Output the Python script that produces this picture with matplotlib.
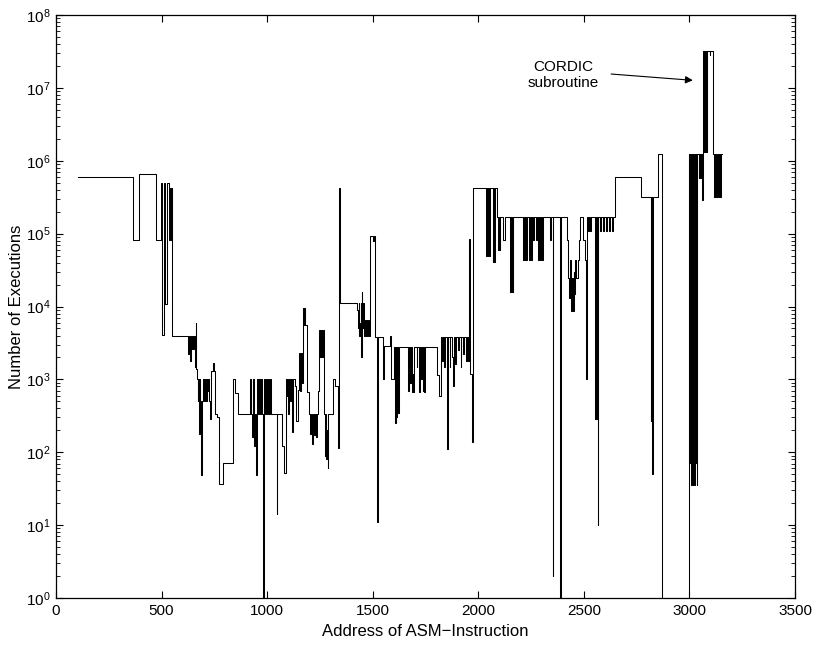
import numpy as np
from matplotlib import pyplot as plt
from matplotlib.ticker import LogLocator, NullFormatter

plt.rcParams['font.family'] = ['Liberation Sans', 'DejaVu Sans']

# instruction address where each count starts (step plot, 'post')
address = [104, 365, 394, 474, 496, 504, 510, 516, 527, 534, 541, 543, 545, 547, 549, 551,
           627, 631, 635, 639, 643, 646, 650, 654, 658, 661, 664, 668, 671, 674, 677, 680,
           684, 688, 692, 697, 701, 705, 709, 713, 717, 721, 725, 730, 735, 742, 748, 753,
           761, 774, 790, 840, 848, 864, 919, 924, 928, 933, 937, 941, 945, 952, 957, 961,
           966, 970, 975, 980, 983, 987, 992, 996, 1000, 1004, 1008, 1012, 1017, 1045, 1048, 1069,
           1080, 1088, 1092, 1096, 1100, 1104, 1108, 1112, 1118, 1124, 1133, 1137, 1148, 1153, 1157, 1161,
           1165, 1171, 1174, 1177, 1181, 1188, 1200, 1205, 1209, 1214, 1218, 1222, 1226, 1230, 1234, 1243,
           1247, 1250, 1253, 1256, 1259, 1262, 1265, 1270, 1274, 1277, 1280, 1283, 1286, 1290, 1314, 1320,
           1337, 1342, 1345, 1427, 1430, 1433, 1436, 1440, 1443, 1445, 1448, 1451, 1455, 1459, 1463, 1466,
           1470, 1473, 1477, 1481, 1485, 1489, 1500, 1504, 1511, 1520, 1523, 1551, 1555, 1582, 1585, 1601,
           1606, 1609, 1612, 1616, 1619, 1623, 1669, 1673, 1677, 1681, 1685, 1689, 1693, 1697, 1708, 1712,
           1720, 1724, 1728, 1732, 1736, 1740, 1745, 1749, 1803, 1814, 1822, 1828, 1832, 1838, 1842, 1852,
           1856, 1864, 1868, 1876, 1880, 1884, 1892, 1896, 1904, 1908, 1916, 1920, 1928, 1932, 1940, 1946,
           1950, 1957, 1960, 1970, 1977, 2037, 2041, 2044, 2048, 2051, 2054, 2068, 2071, 2074, 2077, 2088,
           2094, 2097, 2101, 2105, 2118, 2126, 2150, 2153, 2156, 2160, 2163, 2166, 2213, 2216, 2219, 2222,
           2226, 2230, 2240, 2244, 2249, 2253, 2261, 2265, 2273, 2277, 2285, 2289, 2293, 2297, 2301, 2305,
           2340, 2344, 2352, 2355, 2386, 2390, 2419, 2423, 2427, 2431, 2435, 2439, 2443, 2447, 2451, 2455,
           2460, 2465, 2470, 2475, 2482, 2497, 2506, 2510, 2514, 2521, 2525, 2530, 2535, 2553, 2556, 2559,
           2562, 2566, 2569, 2575, 2580, 2590, 2595, 2605, 2610, 2620, 2625, 2635, 2640, 2647, 2770, 2818,
           2820, 2822, 2824, 2826, 2852, 2870, 2998, 3000, 3002, 3004, 3006, 3009, 3012, 3015, 3018, 3021,
           3024, 3027, 3030, 3034, 3037, 3043, 3047, 3052, 3056, 3060, 3062, 3066, 3068, 3070, 3072, 3074,
           3077, 3080, 3082, 3084, 3095, 3097, 3112, 3116, 3119, 3122, 3126, 3130, 3134, 3138, 3142, 3146,
           3150, 3154]

executions = [6e5, 8.2e4, 6.6e5, 8.2e4, 5e5, 4.1e3, 5e5, 1.07e4, 5e5, 8.2e4, 4.2e5, 8.2e4, 4.2e5, 8.2e4, 4.2e5, 4e3,
              2.2e3, 4e3, 1.8e3, 4e3, 2.6e3, 4e3, 2.6e3, 4e3, 1.5e3, 5.9e3, 1.4e3, 1e3, 5e2, 1e3, 1.8e2, 1e3,
              5e2, 49, 5e2, 1e3, 5e2, 1e3, 5e2, 1e3, 7e2, 1e3, 5e2, 2.9e2, 1.3e3, 1.7e3, 1.3e3, 340,
              300, 37, 72, 1e3, 650, 340, 1e3, 340, 160, 1e3, 120, 340, 49, 1e3, 340, 1e3,
              340, 1e3, 340, 1, 340, 1e3, 340, 1e3, 340, 1e3, 340, 1e3, 340, 14, 340, 120,
              52, 1e3, 600, 1e3, 340, 1e3, 500, 1e3, 190, 1e3, 800, 270, 720, 2.3e3, 700, 2.3e3,
              900, 9.6e3, 5.5e3, 9.6e3, 5.5e3, 670, 340, 180, 340, 130, 340, 170, 340, 160, 340, 700,
              4.7e3, 2e3, 4.7e3, 2e3, 4.7e3, 2e3, 4.7e3, 340, 90, 340, 80, 200, 60, 340, 1e3, 800,
              114, 4.2e5, 1.1e4, 9e3, 5e3, 1.1e4, 4e3, 6e3, 1.1e4, 2e3, 1.6e4, 5e3, 1.1e4, 4e3, 6.5e3, 4e3,
              6.5e3, 4e3, 6.5e3, 4e3, 6.5e3, 9.4e4, 8e4, 9.4e4, 3.8e3, 11, 3.8e3, 1e3, 2.9e3, 4e3, 1e3, 2.8e3,
              250, 2.8e3, 300, 2.8e3, 350, 2.8e3, 700, 2.8e3, 900, 2.8e3, 670, 1.2e3, 670, 2.8e3, 1.5e3, 2.8e3,
              670, 2.8e3, 1e3, 2.8e3, 700, 2.8e3, 670, 2.8e3, 1.15e3, 600, 3.8e3, 1.8e3, 3.8e3, 1.5e3, 3.8e3, 110,
              3.8e3, 1.5e3, 3.8e3, 2e3, 800, 3.8e3, 1.6e3, 3.8e3, 2.5e3, 3.8e3, 1.5e3, 3.8e3, 2.2e3, 3.8e3, 1.8e3, 3.8e3,
              1.8e3, 8.5e4, 1.2e3, 140, 4.2e5, 5e4, 4.2e5, 5e4, 4.2e5, 5e4, 4.2e5, 4.1e4, 4.2e5, 4.1e4, 4.2e5, 1.7e5,
              6e4, 1.7e5, 6e4, 1.7e5, 8.3e4, 1.7e5, 1.6e4, 1.7e5, 1.6e4, 1.7e5, 1.6e4, 1.7e5, 4.4e4, 1.7e5, 4.4e4, 1.7e5,
              4.4e4, 1.7e5, 4.4e4, 1.7e5, 4.4e4, 1.7e5, 8.3e4, 1.7e5, 8.3e4, 1.7e5, 4.4e4, 1.7e5, 4.4e4, 1.7e5, 4.4e4, 1.7e5,
              8.3e4, 1.7e5, 2, 1.7e5, 1, 1.7e5, 8.3e4, 4.4e4, 2.5e4, 1.3e4, 4.4e4, 8.7e3, 2.5e4, 8.7e3, 3e4, 1.5e4,
              4.4e4, 2.5e4, 4.4e4, 8.3e4, 1.7e5, 8.3e4, 4.4e4, 1e3, 1.7e5, 1.1e5, 1.7e5, 1.1e5, 1.7e5, 290, 1.7e5, 290,
              1.7e5, 10, 1.7e5, 1.1e5, 1.7e5, 1.1e5, 1.7e5, 1.1e5, 1.7e5, 1.1e5, 1.7e5, 1.1e5, 1.7e5, 6e5, 3.2e5, 270,
              3.2e5, 270, 50, 3.2e5, 1.25e6, 1, 1.25e6, 72, 1.25e6, 72, 1.25e6, 35, 1.25e6, 35, 1.25e6, 35,
              1.25e6, 72, 1.25e6, 35, 1.25e6, 5.8e5, 1.25e6, 5.8e5, 1.25e6, 2.9e5, 1.25e6, 3.2e7, 1.3e6, 3.2e7, 1.3e6, 3.2e7,
              1.3e6, 3.2e7, 1.3e6, 3.2e7, 2.8e7, 3.2e7, 1.25e6, 3.2e5, 1.25e6, 3.2e5, 1.25e6, 3.2e5, 1.25e6, 3.2e5, 1.25e6, 3.2e5,
              1.25e6, 1.25e6]

fig = plt.figure(figsize=(8.15, 6.45), dpi=100)
ax = fig.add_axes([0.0687, 0.0729, 0.9068, 0.9038])

ax.step(address, executions, where='post', color='k', linewidth=0.75)

ax.set_yscale('log')
ax.set_xlim(0, 3500)
ax.set_ylim(1, 1e8)
ax.set_xticks(np.arange(0, 3501, 500))
ax.yaxis.set_major_locator(LogLocator(base=10, numticks=12))
ax.yaxis.set_minor_locator(LogLocator(base=10, subs=np.arange(2, 10), numticks=12))
ax.yaxis.set_minor_formatter(NullFormatter())
ax.tick_params(which='both', direction='in', top=True, right=True, labelsize=11)
ax.tick_params(which='major', length=5, width=0.8, pad=4)
ax.tick_params(which='minor', length=3, width=0.6)
for s in ax.spines.values():
    s.set_linewidth(0.9)

ax.set_xlabel("Address of ASM\u2212Instruction", fontsize=12, labelpad=5)
ax.set_ylabel("Number of Executions", fontsize=12, labelpad=1)

ax.text(2402, 1.5e7, "CORDIC\nsubroutine", ha='center', va='center', fontsize=11, linespacing=1.25)
ax.annotate("", xy=(3016, 1.27e7), xytext=(2629, 1.55e7),
            arrowprops=dict(arrowstyle='-|>', color='k', lw=0.8,
                            shrinkA=0, shrinkB=0, mutation_scale=11))

plt.savefig("out.png", dpi=100)
